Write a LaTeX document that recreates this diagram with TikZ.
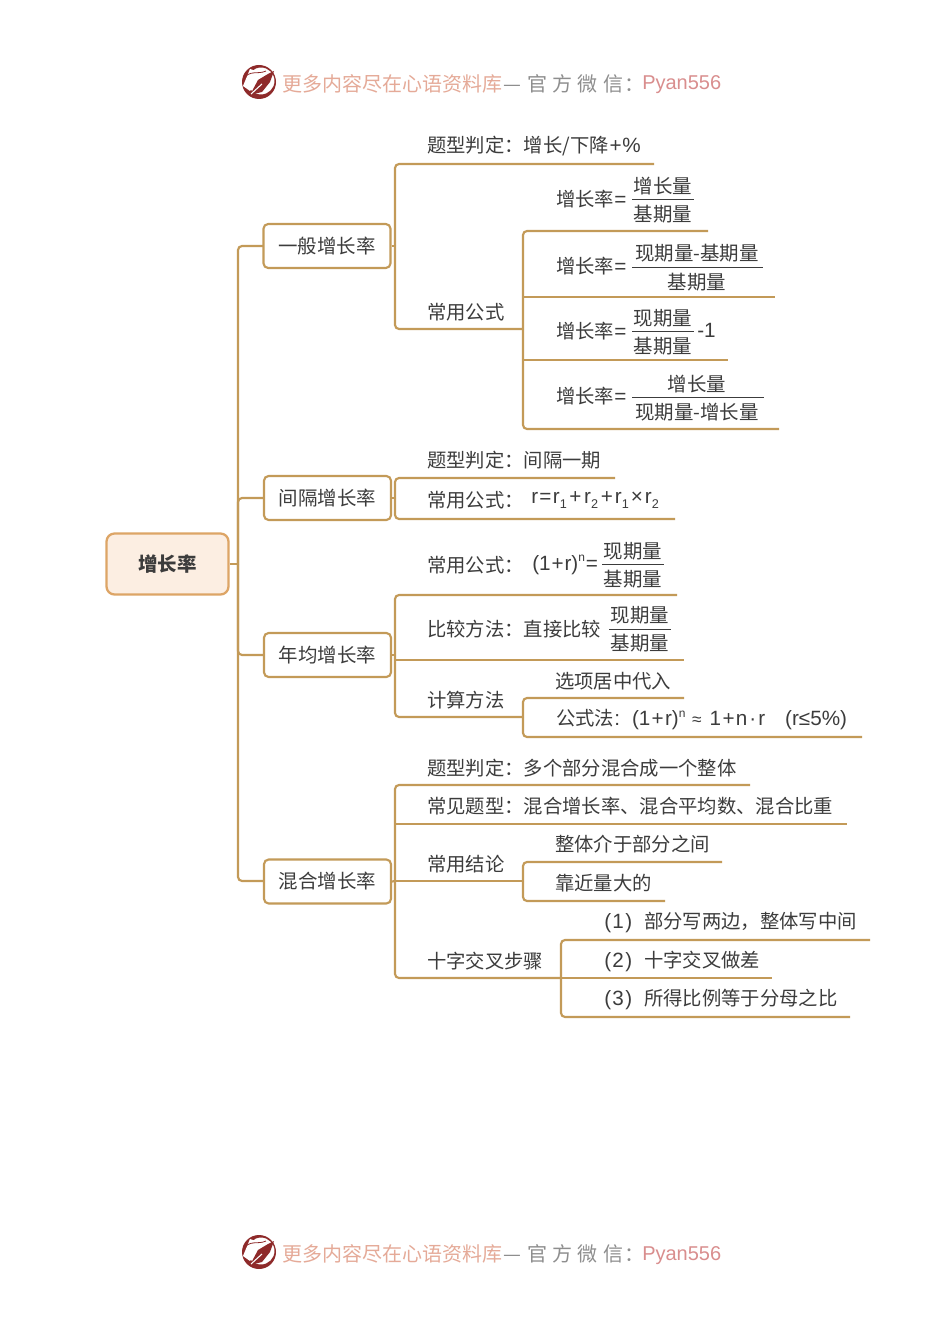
\documentclass[tikz,border=0pt]{standalone}
\usepackage{fontspec}
\setmainfont{Noto Sans CJK SC}
\newfontfamily\latinhdr{Liberation Sans}
\definecolor{linec}{HTML}{C39A58}
\definecolor{txt}{HTML}{3C3C3C}
\definecolor{rootfill}{HTML}{FCEEE2}
\definecolor{rootline}{HTML}{DDA566}
\definecolor{hdra}{HTML}{E5AA98}
\definecolor{hdrb}{HTML}{8E8E8E}
\definecolor{hdrc}{HTML}{D98E8E}
\definecolor{logoc}{HTML}{8E2A2A}
\def\px{0.75pt}
\newcommand{\lat}[1]{{\latinhdr\fontsize{15.5pt}{16pt}\selectfont #1}}
\newcommand{\sbs}[1]{\raisebox{-0.4ex}{\latinhdr\fontsize{9.5pt}{10pt}\selectfont #1}}
\newcommand{\sps}[1]{\raisebox{0.8ex}{\latinhdr\fontsize{9pt}{10pt}\selectfont #1}}
\tikzset{
  x=0.75pt,y=-0.75pt,
  conn/.style={draw=linec,line width=1.6pt,rounded corners=3pt},
  branchbox/.style={draw=linec,line width=1.6pt,rounded corners=3.5pt,fill=white,minimum width=127*\px,minimum height=44*\px,inner sep=0pt,text=txt,font=\fontsize{14.6pt}{16pt}\selectfont},
  rootbox/.style={draw=rootline,line width=1.7pt,rounded corners=6pt,fill=rootfill,minimum width=122*\px,minimum height=61*\px,inner sep=0pt,text=txt,font=\fontsize{14.6pt}{16pt}\selectfont\bfseries},
  lab/.style={anchor=west,inner sep=0pt,text=txt,font=\fontsize{14.5pt}{16pt}\selectfont},
  mid/.style={anchor=center,inner sep=0pt,text=txt,font=\fontsize{14.6pt}{16pt}\selectfont},
  fracrule/.style={draw=txt,line width=0.7pt},
  hdrtext/.style={anchor=west,inner sep=0pt,font=\fontsize{15pt}{16pt}\selectfont},
}
\newcommand{\hdr}[2]{%
  \node[hdrtext,text=hdra] (#1a) at (282,#2+1) {更多内容尽在心语资料库};
  \node[hdrtext,text=hdrb] (#1b) at (503,#2+1) {\fontsize{15pt}{16pt}\selectfont —\kern4.5pt 官\kern4pt 方\kern4pt 微\kern4pt 信\kern1pt ：};
  \node[hdrtext,text=hdrc,anchor=base west] (#1c) at (642,#2+7) {\latinhdr Pyan556};
  \fill[logoc,even odd rule] (259,#2-1) circle[radius=17] (261,#2-2) circle[radius=13.5];
  \fill[white] (243,#2+3) -- (250,#2-14) -- (262,#2-10) -- (250,#2+8) -- cycle;
  \fill[logoc] (250,#2+12) -- (258,#2-3) -- (268,#2-9) -- (274,#2-12) -- (270,#2-1) -- (262,#2+9) -- cycle;
  \draw[white,line width=0.8pt] (251,#2+11) -- (262,#2+1);
  \draw[logoc,line width=0.6pt] (243,#2-3) .. controls (249,#2-14) and (258,#2-8) .. (266,#2-12);
}
\begin{document}
\begin{tikzpicture}
\useasboundingbox (0,0) rectangle (950,1344);
\fill[white] (0,0) rectangle (950,1344);
\hdr{h}{83}
\hdr{f}{1253}

% coordinates of trunks and line ends
\coordinate (t0) at (238,564);
\coordinate (t1) at (395,246);
\coordinate (t2) at (395,498);
\coordinate (t3) at (395,655);
\coordinate (t4) at (395,881);
\coordinate (e1a) at (654,164);
\coordinate (e1b) at (523,329);
\coordinate (s1a) at (708,231);
\coordinate (s1b) at (775,297);
\coordinate (s1c) at (728,360);
\coordinate (s1d) at (779,429);
\coordinate (e2a) at (615,478);
\coordinate (e2b) at (675,519);
\coordinate (e3a) at (677,595);
\coordinate (e3b) at (684,660);
\coordinate (e3c) at (523,717);
\coordinate (s3a) at (684,698);
\coordinate (s3b) at (862,737);
\coordinate (e4a) at (750,785);
\coordinate (e4b) at (847,824);
\coordinate (e4c) at (523,881);
\coordinate (e4d) at (561,978);
\coordinate (s4a) at (722,862);
\coordinate (s4b) at (665,901);
\coordinate (s4c) at (870,940);
\coordinate (s4d) at (772,978);
\coordinate (s4e) at (850,1017);

% connectors
\path[conn] (t0) |- (263,246);
\path[conn] (t0) |- (264,498);
\path[conn] (t0) |- (264,655);
\path[conn] (t0) |- (264,881);
\path[conn] (t1) |- (e1a);
\path[conn] (t1) |- (e1b);
\path[conn] (e1b) |- (s1a);
\path[conn] (e1b) |- (s1d);
\path[conn] (e1b) ++(0,-32) -- (s1b);
\path[conn] (e1b) ++(0,31) -- (s1c);
\path[conn] (t2) |- (e2a);
\path[conn] (t2) |- (e2b);
\path[conn] (t3) |- (e3a);
\path[conn] (t3) |- (e3c);
\path[conn] (t3) ++(0,5) -- (e3b);
\path[conn] (e3c) |- (s3a);
\path[conn] (e3c) |- (s3b);
\path[conn] (t4) |- (e4a);
\path[conn] (t4) ++(0,-57) -- (e4b);
\path[conn] (t4) -- (e4c);
\path[conn] (t4) |- (e4d);
\path[conn] (e4c) |- (s4a);
\path[conn] (e4c) |- (s4b);
\path[conn] (e4d) |- (s4c);
\path[conn] (e4d) -- (s4d);
\path[conn] (e4d) |- (s4e);

% boxes
\node[rootbox] (root) at (167.5,564) {增长率};
\node[branchbox] (b1) at (327,246) {一般增长率};
\node[branchbox] (b2) at (327.5,498) {间隔增长率};
\node[branchbox] (b3) at (327.5,655) {年均增长率};
\node[branchbox] (b4) at (327.5,881.5) {混合增长率};
\path[conn] (root.east) -- (t0);
\path[conn] (b1.east) -- (t1);
\path[conn] (b2.east) -- (t2);
\path[conn] (b3.east) -- (t3);
\path[conn] (b4.east) -- (t4);

% branch 1
\node[lab] (n1) at (427,146) {题型判定：增长/下降\lat{\kern.5pt +\kern.5pt \%}};
\node[lab] (n2) at (427,312) {常用公式};
\node[lab] (f1) at (556,199) {增长率\lat{=}};
\node[mid] (f1n) at (663,186) {增长量};
\node[mid] (f1d) at (663,214) {基期量};
\draw[fracrule] (632,199) -- (694,199);
\node[lab] (f2) at (556,266) {增长率\lat{=}};
\node[mid] (f2n) at (697,253) {现期量-基期量};
\node[mid] (f2d) at (697,282) {基期量};
\draw[fracrule] (632,267) -- (763,267);
\node[lab] (f3) at (556,331) {增长率\lat{=}};
\node[mid] (f3n) at (663,318) {现期量};
\node[mid] (f3d) at (663,346) {基期量};
\node[lab] (f3m) at (697,330) {\lat{-1}};
\draw[fracrule] (632,331) -- (694,331);
\node[lab] (f4) at (556,396) {增长率\lat{=}};
\node[mid] (f4n) at (697,384) {增长量};
\node[mid] (f4d) at (697,412) {现期量-增长量};
\draw[fracrule] (632,397) -- (764,397);

% branch 2
\node[lab] (n3) at (427,460) {题型判定：间隔一期};
\node[lab] (n4) at (427,500) {常用公式：};
\node[lab] (n4f) at (531,500) {\lat{r\kern1pt=\kern1pt r\sbs{1}\kern2pt +\kern2pt r\sbs{2}\kern2pt +\kern1.5pt r\sbs{1}\kern1.5pt ×\kern1.5pt r\sbs{2}}};

% branch 3
\node[lab] (n5) at (427,565) {常用公式：};
\node[lab] (n5f) at (532,565) {\lat{(1\kern.7pt+\kern.7pt r)\sps{n}\kern.7pt=}};
\node[mid] (f5n) at (633,551) {现期量};
\node[mid] (f5d) at (633,579) {基期量};
\draw[fracrule] (602,564) -- (664,564);
\node[lab] (n6) at (427,629) {比较方法：直接比较};
\node[mid] (f6n) at (640,615) {现期量};
\node[mid] (f6d) at (640,643) {基期量};
\draw[fracrule] (609,629) -- (671,629);
\node[lab] (n7) at (427,700) {计算方法};
\node[lab] (n8) at (555,681) {选项居中代入};
\node[lab] (n9) at (556,720) {公式法\lat{:\kern9pt (1\kern1pt+\kern1pt r)\sps{n}\kern5pt{\fontsize{13pt}{14pt}\selectfont ≈}\kern6pt 1\kern1pt+\kern1pt n\kern1.5pt·\kern1.5pt r\kern15pt (r≤5\%)}};

% branch 4
\node[lab] (n10) at (427,768) {题型判定：多个部分混合成一个整体};
\node[lab] (n11) at (427,806) {常见题型：混合增长率、混合平均数、混合比重};
\node[lab] (n12) at (427,864) {常用结论};
\node[lab] (n13) at (555,844) {整体介于部分之间};
\node[lab] (n14) at (555,883) {靠近量大的};
\node[lab] (n15) at (427,961) {十字交叉步骤};
\node[lab] (n16) at (604,922) {\lat{(\kern1pt 1\kern1pt )}\kern9pt 部分写两边，整体写中间};
\node[lab] (n17) at (604,961) {\lat{(\kern1pt 2\kern1pt )}\kern9pt 十字交叉做差};
\node[lab] (n18) at (604,999) {\lat{(\kern1pt 3\kern1pt )}\kern9pt 所得比例等于分母之比};
\end{tikzpicture}
\end{document}
